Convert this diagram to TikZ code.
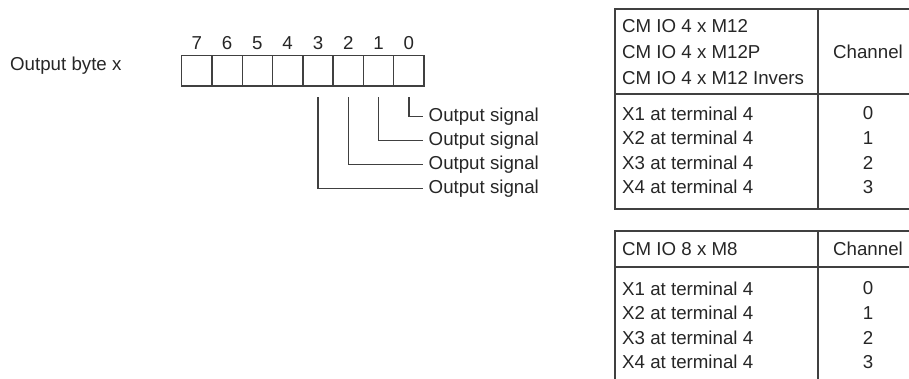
\documentclass[tikz,border=0pt]{standalone}
\usepackage{fontspec}
\setmainfont{Liberation Sans}
\begin{document}
\begin{tikzpicture}[x=1pt,y=-1pt,
  every node/.style={font=\fontsize{18.7}{23}\selectfont, text=black!85, inner sep=0pt},
  ln/.style={draw=black!75, line width=1.4pt},
  bitbox/.style={ln, minimum width=30.3pt, minimum height=30.3pt, anchor=center},
  lbl/.style={anchor=west},
  cell/.style={anchor=west},
  num/.style={anchor=center}]
\useasboundingbox (0,0) rectangle (909,378);
\clip (0,0) rectangle (909,378);
% label
\node[lbl] (title) at (10,66) {Output byte x};
% bit boxes
\foreach \i in {0,...,7}{
  \node[bitbox] (b\i) at ({424-30.3*(\i+0.5)},70.9) {};
  \node[num] (d\i) at ({424-30.3*(\i+0.5)},43) {\i};
}
% signal labels
\foreach \i/\yy in {0/116.5,1/140.5,2/164.5,3/188.5}{
  \node[lbl] (s\i) at (428.5,\yy) {Output signal};
  \coordinate (t\i) at ([yshift=-10.5pt]b\i.south);
  \draw[ln] (t\i) |- ([xshift=-6pt]s\i.west);
}
% table 1
\coordinate (T1a) at (615,9);
\coordinate (T1b) at (940,209);
\draw[ln] (T1a) rectangle (T1b);
\draw[ln] (818,9) -- (818,209);
\draw[ln] (615,94) -- (940,94);
\node[cell] (h1a) at (622,26.5) {CM IO 4 x M12};
\node[cell] (h1b) at (622,52) {CM IO 4 x M12P};
\node[cell] (h1c) at (622,78) {CM IO 4 x M12 Invers};
\node[num] (c1) at (868,52) {Channel};
\foreach \i/\yy in {0/113.5,1/138,2/162.5,3/187}{
  \pgfmathtruncatemacro{\xn}{\i+1}
  \node[cell] (r1\i) at (622,\yy) {X\xn{} at terminal 4};
  \node[num] (n1\i) at (868,\yy) {\i};
}
% table 2
\draw[ln] (615,231) rectangle (940,420);
\draw[ln] (818,231) -- (818,420);
\draw[ln] (615,267) -- (940,267);
\node[cell] (h2) at (622,249) {CM IO 8 x M8};
\node[num] (c2) at (868,249) {Channel};
\foreach \i/\yy in {0/288.5,1/313,2/337.5,3/362}{
  \pgfmathtruncatemacro{\xn}{\i+1}
  \node[cell] (r2\i) at (622,\yy) {X\xn{} at terminal 4};
  \node[num] (n2\i) at (868,\yy) {\i};
}
\end{tikzpicture}
\end{document}
